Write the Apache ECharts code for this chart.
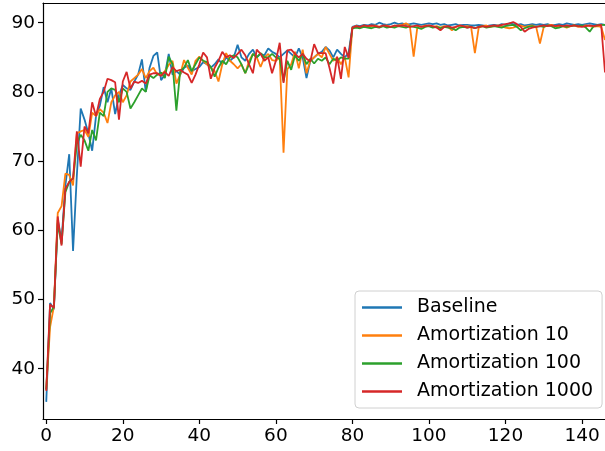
<!DOCTYPE html>
<html><head><meta charset="utf-8">
<script src="https://cdn.jsdelivr.net/npm/echarts@6/dist/echarts.min.js"></script>
<style>html,body{margin:0;padding:0;background:#fff}#c{width:605px;height:451px}</style>
</head><body><div id="c"></div>
<script>
const xTicks = [0, 20, 40, 60, 80, 100, 120, 140];
const yTicks = [40, 50, 60, 70, 80, 90];
const seriesNames = ['Baseline', 'Amortization 10', 'Amortization 100', 'Amortization 1000'];
const colors = ['#1f77b4', '#ff7f0e', '#2ca02c', '#d62728'];

const baseline = [
35.2,49.5,48.6,61.5,58.5,66.5,71.0,57.0,68.0,77.6,76.0,74.0,71.5,76.5,78.0,80.7,78.5,80.5,76.8,79.5,81.0,
80.5,80.3,81.5,82.5,84.7,80.0,83.5,85.2,85.7,81.7,82.5,85.5,82.5,83.0,82.5,83.5,83.8,83.0,83.3,83.6,84.3,84.0,
83.5,84.0,84.7,84.0,85.0,84.5,85.0,86.8,85.0,84.5,85.5,86.1,85.0,85.5,85.3,86.3,85.8,85.5,85.0,85.5,86.0,
85.5,85.0,86.3,85.0,82.0,84.5,85.0,85.5,85.8,86.5,86.0,85.0,86.1,85.5,85.0,85.6,
89.4,89.6,89.5,89.7,89.6,89.8,89.7,90.0,89.8,89.7,89.8,90.0,89.8,89.9,89.7,89.8,89.9,89.8,89.7,89.8,
89.9,89.8,89.9,89.7,89.8,89.6,89.7,89.8,89.6,89.7,89.7,89.6,89.6,89.7,89.6,89.5,89.6,89.7,89.6,89.8,
89.7,89.9,89.8,89.7,89.8,89.6,89.7,89.8,89.7,89.8,89.7,89.8,89.6,89.7,89.8,89.7,89.9,89.8,89.7,89.8,
89.7,89.8,89.9,89.8,89.7,89.8,89.7
];
const amort10 = [
37.0,46.0,49.0,62.5,63.5,68.2,68.0,66.5,74.0,74.3,74.5,73.5,77.0,76.5,77.5,77.0,75.5,78.5,79.5,80.0,78.5,
79.5,81.5,82.0,82.5,83.3,82.0,83.0,83.5,82.5,82.5,83.0,83.9,84.5,81.2,82.5,84.6,83.5,82.5,84.5,85.1,84.5,84.0,
83.5,83.0,81.5,84.0,85.6,84.5,84.0,83.4,84.0,82.7,84.5,85.5,85.0,83.6,85.0,85.5,84.6,84.5,85.0,71.2,83.3,
84.0,85.8,83.4,86.1,82.7,84.5,85.0,85.5,85.0,86.5,85.5,84.5,85.0,84.0,85.0,82.1,
89.3,89.5,89.3,89.6,89.4,89.5,89.6,89.4,89.5,89.6,89.4,89.5,89.6,89.7,89.9,89.6,85.1,89.5,89.4,89.6,
89.5,89.4,89.5,89.3,89.5,89.4,88.9,89.4,89.6,89.4,89.5,89.4,85.6,89.3,89.5,89.6,89.4,89.5,89.6,89.5,
89.3,89.2,89.3,89.5,89.6,89.4,89.5,89.6,89.4,87.0,89.4,89.6,89.7,89.5,89.4,89.5,89.3,89.5,89.6,89.4,
89.5,89.6,89.5,89.4,89.5,89.4,87.5
];
const amort100 = [
37.0,48.0,49.0,61.0,58.0,65.5,67.0,67.5,72.5,73.8,73.0,71.5,74.5,73.0,77.0,76.5,80.0,80.5,80.3,78.5,80.5,
80.0,77.6,78.5,79.5,80.5,80.0,82.4,82.0,82.5,82.8,82.0,85.1,84.0,77.3,83.0,83.5,84.6,83.0,84.0,85.0,84.5,84.3,
83.6,82.2,83.5,84.5,84.0,85.0,85.3,85.0,84.0,82.7,84.0,85.5,85.0,85.6,85.0,85.0,85.5,85.0,84.8,81.5,84.5,
83.2,85.3,84.5,85.5,84.0,84.8,84.1,84.8,84.5,85.0,84.0,84.8,84.5,85.0,84.8,84.8,
89.2,89.3,89.2,89.4,89.3,89.2,89.4,89.3,89.5,89.3,89.4,89.3,89.5,89.4,89.3,89.5,89.4,89.3,89.1,89.4,
89.5,89.3,89.4,89.2,89.4,89.3,89.2,88.9,89.3,89.4,89.3,89.4,89.2,89.4,89.5,89.3,89.4,89.5,89.4,89.3,
89.5,89.6,89.7,89.4,88.9,89.2,89.4,89.5,89.4,89.5,89.4,89.6,89.5,89.2,89.3,89.5,89.4,89.5,89.6,89.5,
89.6,89.3,88.7,89.5,89.6,89.7,89.7
];
const amort1000 = [
36.8,49.3,48.8,62.0,57.8,66.0,67.0,67.5,74.3,69.2,75.0,74.0,78.5,76.5,79.0,80.0,81.9,81.7,81.4,76.0,81.5,
82.9,80.5,81.5,81.3,81.6,81.2,82.5,82.7,82.7,82.3,82.9,82.3,83.6,83.0,83.2,82.8,82.5,81.3,82.5,84.0,85.7,85.0,
81.9,83.5,84.5,85.8,85.0,85.3,84.9,85.5,86.1,85.3,84.0,82.7,86.1,85.5,84.5,85.0,82.7,84.5,87.1,81.3,86.0,
86.1,85.5,85.0,85.5,84.8,84.4,86.9,85.6,85.6,85.6,83.5,81.2,85.1,81.9,86.5,84.9,
89.3,89.5,89.4,89.6,89.5,89.6,89.5,89.4,89.6,89.5,89.4,89.6,89.5,89.6,89.5,89.4,89.5,89.6,89.4,89.5,
89.6,89.5,89.3,88.9,89.4,89.5,89.3,89.4,89.6,89.5,89.3,89.4,89.2,89.4,89.5,89.4,89.5,89.6,89.5,89.7,
89.8,89.9,90.1,89.8,89.4,88.7,89.1,89.3,89.4,89.5,89.6,89.5,89.6,89.5,89.6,89.5,89.6,89.5,89.6,89.5,
89.4,89.5,89.6,89.5,89.6,89.7,82.8
];

const allData = [baseline, amort10, amort100, amort1000];
const FONT = 'DejaVu Sans';
const X_MIN = -0.85, X_MAX = 146, Y_MIN = 32.73, Y_MAX = 92.85;

const chart = echarts.init(document.getElementById('c'), null, {renderer: 'canvas'});
chart.setOption({
  animation: false,
  backgroundColor: '#fff',
  grid: {left: 43, top: 3, right: 0, bottom: 32, containLabel: false},
  xAxis: [{
    type: 'value', min: X_MIN, max: X_MAX, position: 'bottom',
    splitLine: {show: false},
    axisLine: {show: true, onZero: false, lineStyle: {color: '#000', width: 1.2}},
    axisTick: {show: true, length: 5, lineStyle: {color: '#000', width: 1.2}, customValues: xTicks},
    axisLabel: {show: true, customValues: xTicks, color: '#000', fontSize: 18.5, fontFamily: FONT, margin: 8}
  }, {
    type: 'value', min: X_MIN, max: X_MAX, position: 'top',
    splitLine: {show: false},
    axisLine: {show: true, onZero: false, lineStyle: {color: '#000', width: 1.2}},
    axisTick: {show: false}, axisLabel: {show: false}
  }],
  yAxis: {
    type: 'value', min: Y_MIN, max: Y_MAX,
    splitLine: {show: false},
    axisLine: {show: true, onZero: false, lineStyle: {color: '#000', width: 1.2}},
    axisTick: {show: true, length: 5, lineStyle: {color: '#000', width: 1.2}, customValues: yTicks},
    axisLabel: {show: true, customValues: yTicks, color: '#000', fontSize: 18.5, fontFamily: FONT, margin: 8}
  },
  legend: {
    show: true, orient: 'vertical', left: 355, top: 291,
    data: seriesNames,
    icon: 'rect', itemWidth: 40, itemHeight: 2.5, itemGap: 9,
    padding: [7, 9, 7, 7],
    borderColor: '#d0d0d0', borderWidth: 1, borderRadius: 4,
    backgroundColor: 'rgba(255,255,255,0.85)',
    textStyle: {color: '#000', fontSize: 19, fontFamily: FONT, lineHeight: 19, padding: [0, 0, 0, 10]}
  },
  series: seriesNames.map((name, k) => ({
    name: name, type: 'line', xAxisIndex: 0,
    data: allData[k].map((v, i) => [i, v]),
    symbol: 'none', showSymbol: false, clip: true,
    lineStyle: {color: colors[k], width: 1.8},
    itemStyle: {color: colors[k]},
    emphasis: {disabled: true}
  }))
});
</script>
</body></html>
